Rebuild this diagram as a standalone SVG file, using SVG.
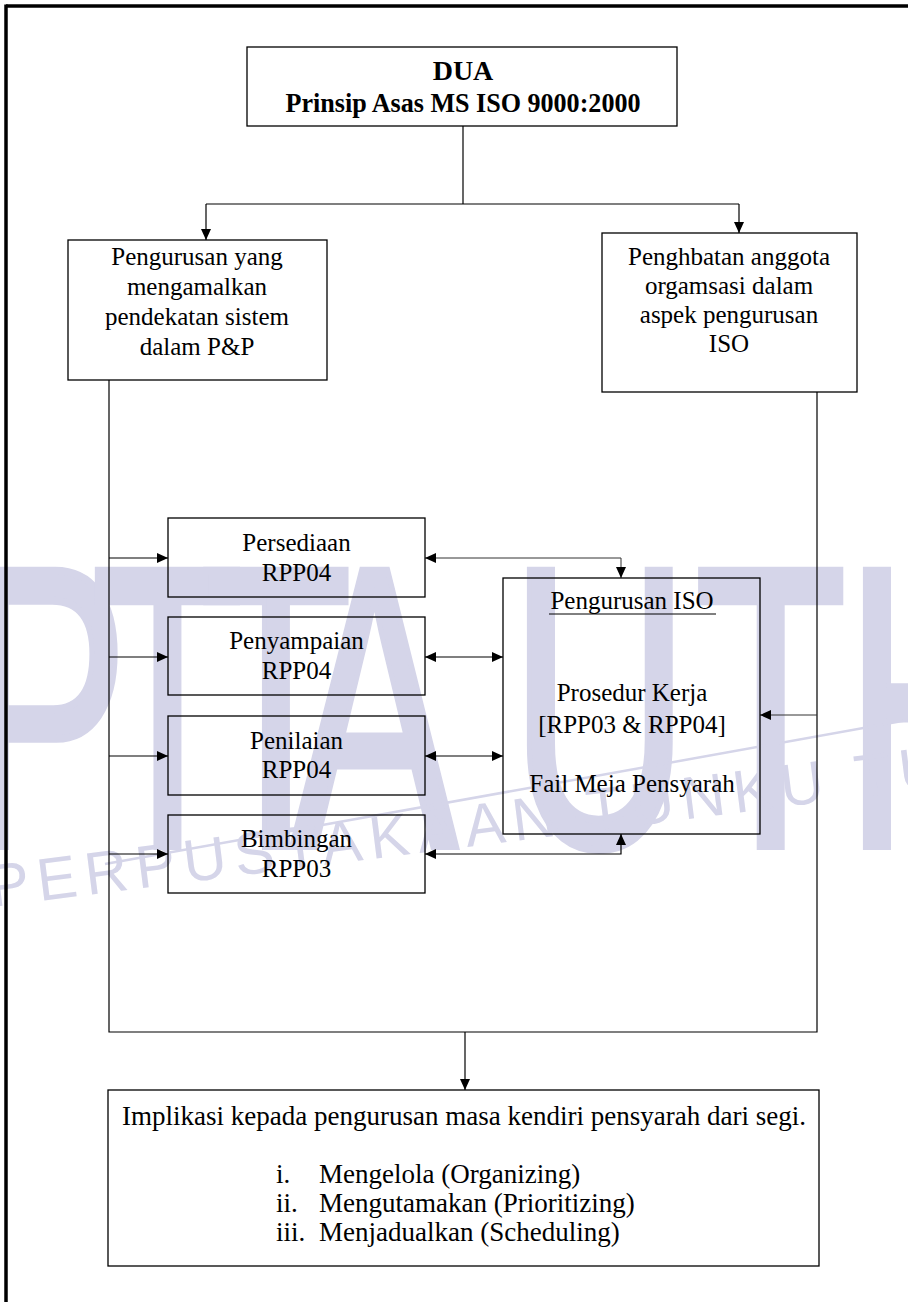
<svg xmlns="http://www.w3.org/2000/svg" width="908" height="1302" viewBox="0 0 908 1302">
<style>
.box{fill:none;stroke:#000;stroke-width:1.3}
.t{font-family:"Liberation Serif","Times New Roman",serif;font-size:25px;fill:#000;text-anchor:middle}
.tb{font-weight:bold;font-size:28px}
.tl{text-anchor:start}
.big{font-size:27px}
.c{fill:none;stroke:#000;stroke-width:1.2}
.g{stroke:#333;stroke-width:1}
.wm{fill:#d5d5e9;font-family:"Liberation Sans",Arial,sans-serif}
</style>
<defs>
<marker id="ah" viewBox="0 0 11 10" refX="11" refY="5" markerWidth="11" markerHeight="10" markerUnits="userSpaceOnUse" orient="auto-start-reverse">
<path d="M0,0 L11,5 L0,10 z" fill="#000"/>
</marker>
</defs>
<rect width="908" height="1302" fill="#fff"/>
<g id="watermark">
<text class="wm" font-size="400" transform="scale(0.62,1)" x="-60 148 323 470 823 1121 1363" y="846" stroke="#d5d5e9" stroke-width="8" stroke-linejoin="miter">PTTAUTH</text>
<line x1="105" y1="864" x2="908" y2="720" stroke="#d5d5e9" stroke-width="2.5"/>
<text class="wm" font-size="60" transform="rotate(-7.2 -8 907)" x="-8" y="907" textLength="960" lengthAdjust="spacing">PERPUSTAKAAN TUNKU TU</text>
</g>
<g id="frame">
<line x1="6" y1="6" x2="908" y2="6" stroke="#000" stroke-width="3.5"/>
<line x1="6" y1="4.5" x2="6" y2="1302" stroke="#000" stroke-width="3.5"/>
</g>
<g id="connectors">
<line class="c" x1="463" y1="126" x2="463" y2="204"/>
<line class="c" x1="206" y1="204" x2="739" y2="204"/>
<line class="c" x1="206" y1="204" x2="206" y2="240" marker-end="url(#ah)"/>
<line class="c" x1="739" y1="204" x2="739" y2="233" marker-end="url(#ah)"/>
<polyline class="c" points="109,380 109,1032 817,1032 817,392"/>
<line class="c" x1="109" y1="558" x2="168" y2="558" marker-end="url(#ah)"/>
<line class="c" x1="109" y1="657" x2="168" y2="657" marker-end="url(#ah)"/>
<line class="c" x1="109" y1="756" x2="168" y2="756" marker-end="url(#ah)"/>
<line class="c" x1="109" y1="854" x2="168" y2="854" marker-end="url(#ah)"/>
<polyline class="c g" points="425,558 621,558 621,578" marker-start="url(#ah)" marker-end="url(#ah)"/>
<line class="c" x1="425" y1="657" x2="503" y2="657" marker-start="url(#ah)" marker-end="url(#ah)"/>
<line class="c" x1="425" y1="756" x2="503" y2="756" marker-start="url(#ah)" marker-end="url(#ah)"/>
<polyline class="c" points="425,854 621,854 621,834" marker-start="url(#ah)" marker-end="url(#ah)"/>
<line class="c g" x1="817" y1="715" x2="760" y2="715" marker-end="url(#ah)"/>
<line class="c" x1="465" y1="1032" x2="465" y2="1090" marker-end="url(#ah)"/>
</g>
<g id="n-dua">
<rect class="box" x="247" y="47" width="430" height="79"/>
<text class="t tb" x="463" y="80">DUA</text>
<text class="t tb" x="463" y="112" textLength="355" lengthAdjust="spacingAndGlyphs">Prinsip Asas MS ISO 9000:2000</text>
</g>
<g id="n-pengurusan">
<rect class="box" x="68" y="240" width="259" height="140"/>
<text class="t" x="197" y="265">Pengurusan yang</text>
<text class="t" x="197" y="295">mengamalkan</text>
<text class="t" x="197" y="325">pendekatan sistem</text>
<text class="t" x="197" y="355">dalam P&amp;P</text>
</g>
<g id="n-penglibatan">
<rect class="box" x="602" y="233" width="255" height="159"/>
<text class="t" x="729" y="265">Penghbatan anggota</text>
<text class="t" x="729" y="294">orgamsasi dalam</text>
<text class="t" x="729" y="323">aspek pengurusan</text>
<text class="t" x="729" y="352">ISO</text>
</g>
<g id="n-persediaan">
<rect class="box" x="168" y="518" width="257" height="79"/>
<text class="t" x="296.5" y="551">Persediaan</text>
<text class="t" x="296.5" y="581">RPP04</text>
</g>
<g id="n-penyampaian">
<rect class="box" x="168" y="617" width="257" height="78"/>
<text class="t" x="296.5" y="649">Penyampaian</text>
<text class="t" x="296.5" y="679">RPP04</text>
</g>
<g id="n-penilaian">
<rect class="box" x="168" y="716" width="257" height="79"/>
<text class="t" x="296.5" y="749">Penilaian</text>
<text class="t" x="296.5" y="778">RPP04</text>
</g>
<g id="n-bimbingan">
<rect class="box" x="168" y="815" width="257" height="78"/>
<text class="t" x="296.5" y="847">Bimbingan</text>
<text class="t" x="296.5" y="877">RPP03</text>
</g>
<g id="n-iso">
<rect class="box" x="503" y="578" width="257" height="256"/>
<text class="t" x="632" y="609">Pengurusan ISO</text>
<line x1="549" y1="614" x2="716" y2="614" stroke="#000" stroke-width="1"/>
<text class="t" x="632" y="701">Prosedur Kerja</text>
<text class="t" x="632" y="733">[RPP03 &amp; RPP04]</text>
<text class="t" x="632" y="792">Fail Meja Pensyarah</text>
</g>
<g id="n-implikasi">
<rect class="box" x="108" y="1090" width="711" height="176"/>
<text class="t big" x="464" y="1125">Implikasi kepada pengurusan masa kendiri pensyarah dari segi.</text>
<text class="t tl big" x="276" y="1183">i.</text>
<text class="t tl big" x="319" y="1183">Mengelola (Organizing)</text>
<text class="t tl big" x="276" y="1212">ii.</text>
<text class="t tl big" x="319" y="1212">Mengutamakan (Prioritizing)</text>
<text class="t tl big" x="276" y="1241">iii.</text>
<text class="t tl big" x="319" y="1241">Menjadualkan (Scheduling)</text>
</g>
</svg>
